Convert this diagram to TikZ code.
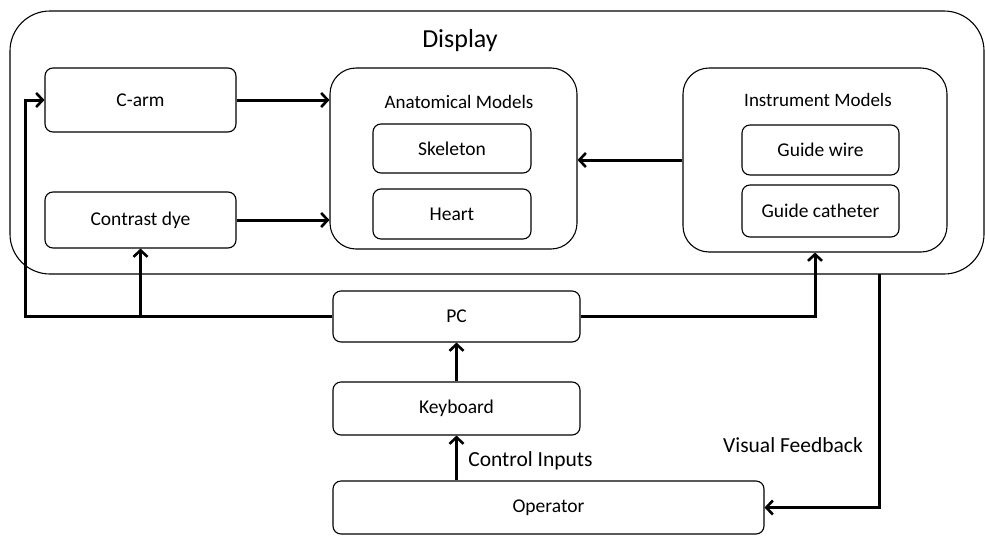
\documentclass[tikz,border=0pt]{standalone}
\usepackage{fontspec}
\setmainfont{Carlito}
\usetikzlibrary{arrows.meta}
\begin{document}
\begin{tikzpicture}[x=1pt, y=-1pt,
    box/.style={draw, line width=1.1pt, rounded corners=8pt, inner sep=0pt,
                font=\fontsize{19.5}{23}\selectfont},
    group/.style={draw, line width=1.1pt, rounded corners=26pt, inner sep=0pt},
    flow/.style={line width=3pt, -{Straight Barb[length=6.5pt, width=14pt, line width=2.6pt]}},
    lbl/.style={font=\fontsize{21.5}{25}\selectfont}]
  \useasboundingbox (0,0) rectangle (985,536);
  % outer display
  \draw[line width=1.1pt, rounded corners=40pt] (10,11) rectangle (984,274);
  \node (display) at (460,41) [font=\fontsize{26}{30}\selectfont] {Display};
  % sources on the left
  \node (carm) at (140.5,100) [box, minimum width=191pt, minimum height=64pt] {C-arm};
  \node (dye) at (140.5,220) [box, minimum width=191pt, minimum height=56pt] {Contrast dye};
  % anatomical models
  \node (anat) at (453.5,158.5) [group, minimum width=247pt, minimum height=181pt] {};
  \node (anattitle) at (459,102) [font=\fontsize{19}{22}\selectfont] {Anatomical Models};
  \node (skel) at (452,148.5) [box, minimum width=158pt, minimum height=49pt] {Skeleton};
  \node (heart) at (452,214) [box, minimum width=158pt, minimum height=50pt] {Heart};
  % instrument models
  \node (instr) at (815,160) [group, minimum width=264pt, minimum height=184pt] {};
  \node (instrtitle) at (818,100) [font=\fontsize{19}{22}\selectfont] {Instrument Models};
  \node (wire) at (820.5,150) [box, minimum width=157pt, minimum height=50pt] {Guide wire};
  \node (cath) at (820.5,211) [box, minimum width=157pt, minimum height=52pt] {Guide catheter};
  % control chain
  \node (pc) at (456.5,316.5) [box, minimum width=247pt, minimum height=51pt] {PC};
  \node (kbd) at (456.5,408.5) [box, minimum width=247pt, minimum height=53pt] {Keyboard};
  \node (oper) at (548.5,507.5) [box, minimum width=431pt, minimum height=53pt] {Operator};
  \coordinate (lcorner) at (25,316.5);
  \coordinate (dyebranch) at (dye.south |- pc.west);
  \coordinate (fbtop) at (879,274);
  \draw[flow] (carm.east) -- (carm.east -| anat.west);
  \draw[flow] (dye.east) -- (dye.east -| anat.west);
  \draw[flow] (instr.west) -- (instr.west -| anat.east);
  \draw[flow] (pc.west) -- (lcorner) |- (carm.west);
  \draw[flow] (dyebranch) -- (dye.south);
  \draw[flow] (pc.east) -| (instr.south);
  \draw[flow] (kbd.north) -- (pc.south);
  \draw[flow] (kbd.south |- oper.north) -- (kbd.south)
        node [lbl, midway, right=7pt, yshift=-3pt] {Control Inputs};
  \draw[flow] (fbtop) |- (oper.east);
  \node (fblabel) at (793,445) [lbl] {Visual Feedback};
\end{tikzpicture}
\end{document}
